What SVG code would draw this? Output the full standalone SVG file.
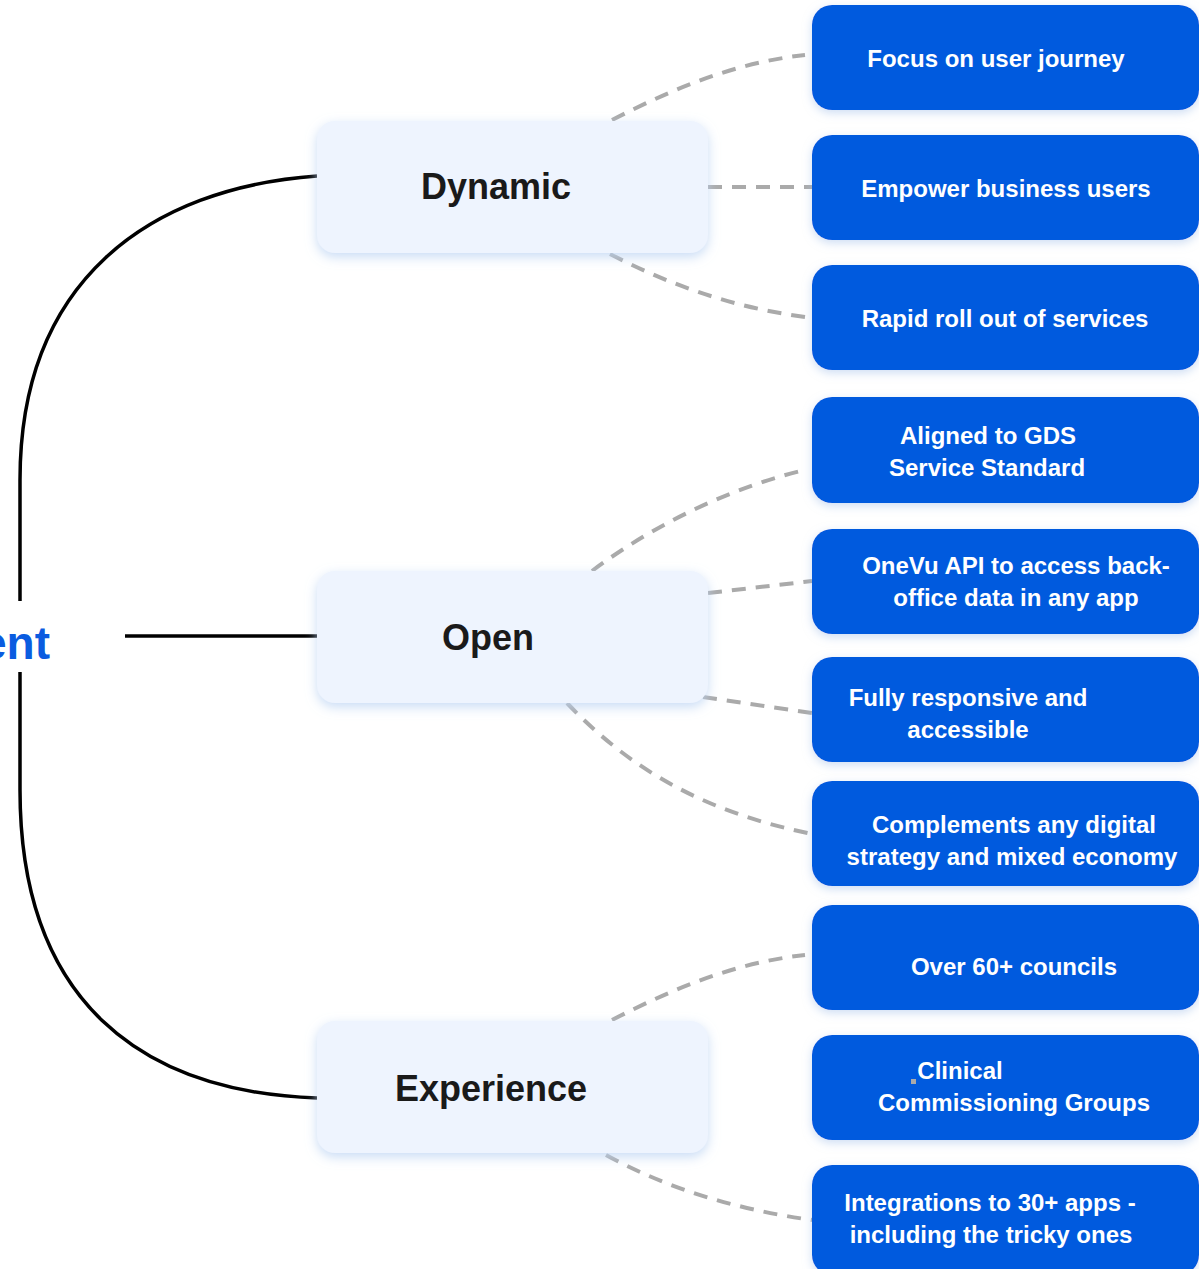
<svg xmlns="http://www.w3.org/2000/svg" width="1199" height="1269" viewBox="0 0 1199 1269">
<defs>
<filter id="nodeShadow" x="-10%" y="-20%" width="120%" height="150%">
<feDropShadow dx="0" dy="4" stdDeviation="6" flood-color="#bcd3f3" flood-opacity="0.8"/>
</filter>
<filter id="boxShadow" x="-10%" y="-20%" width="120%" height="150%">
<feDropShadow dx="0" dy="3" stdDeviation="5" flood-color="#9dbbe8" flood-opacity="0.5"/>
</filter>
</defs>
<style>
.main{fill:none;stroke:#000;stroke-width:3.5;stroke-linecap:butt}
.dash{fill:none;stroke:#aaaaaa;stroke-width:4;stroke-dasharray:14 10}
.node rect{fill:#eef4fe;filter:url(#nodeShadow)}
.node text{font-family:"Liberation Sans",Arial,sans-serif;font-weight:bold;font-size:36px;fill:#1a1a1a;text-anchor:middle}
.leaf rect{fill:#005ade;filter:url(#boxShadow)}
.leaf text{font-family:"Liberation Sans",Arial,sans-serif;font-weight:bold;font-size:24px;fill:#ffffff;text-anchor:middle}
.root{font-family:"Liberation Sans",Arial,sans-serif;font-weight:bold;font-size:46px;fill:#0a5ce0;text-anchor:end}
</style>
<rect width="1199" height="1269" fill="#ffffff"/>
<g id="connectors">
<path class="main" d="M317,176 C150,188 20,280 20,480 L20,601"/>
<path class="main" d="M20,672 L20,790 C20,1000 140,1092 317,1098"/>
<path class="main" d="M125,636 L317,636"/>
<path class="dash" d="M612,120 C680,85 740,62 805,55"/>
<path class="dash" d="M708,187 L812,187"/>
<path class="dash" d="M610,254 C680,290 740,308 805,317"/>
<path class="dash" d="M592,571 C660,520 740,485 805,470"/>
<path class="dash" d="M708,593 L812,581"/>
<path class="dash" d="M703,697 L812,713"/>
<path class="dash" d="M567,703 C640,780 720,815 812,834"/>
<path class="dash" d="M612,1020 C680,985 740,962 805,955"/>
<path class="dash" d="M606,1155 C670,1190 740,1210 812,1220"/>
</g>
<text id="root" class="root" x="50" y="659">ent</text>
<g id="node-dynamic" class="node"><rect x="317" y="121" width="391" height="132" rx="18"/><text x="496" y="199">Dynamic</text></g>
<g id="node-open" class="node"><rect x="317" y="571" width="391" height="132" rx="18"/><text x="488" y="650">Open</text></g>
<g id="node-experience" class="node"><rect x="317" y="1021" width="391" height="132" rx="18"/><text x="491" y="1101">Experience</text></g>
<g id="leaf-1" class="leaf"><rect x="812" y="5" width="387" height="105" rx="20"/><text x="996" y="67">Focus on user journey</text></g>
<g id="leaf-2" class="leaf"><rect x="812" y="135" width="387" height="105" rx="20"/><text x="1006" y="197">Empower business users</text></g>
<g id="leaf-3" class="leaf"><rect x="812" y="265" width="387" height="105" rx="20"/><text x="1005" y="327">Rapid roll out of services</text></g>
<g id="leaf-4" class="leaf"><rect x="812" y="397" width="387" height="106" rx="20"/><text x="988" y="444">Aligned to GDS</text><text x="987" y="476">Service Standard</text></g>
<g id="leaf-5" class="leaf"><rect x="812" y="529" width="387" height="105" rx="20"/><text x="1016" y="574">OneVu API to access back-</text><text x="1016" y="606">office data in any app</text></g>
<g id="leaf-6" class="leaf"><rect x="812" y="657" width="387" height="105" rx="20"/><text x="968" y="706">Fully responsive and</text><text x="968" y="738">accessible</text></g>
<g id="leaf-7" class="leaf"><rect x="812" y="781" width="387" height="105" rx="20"/><text x="1014" y="833">Complements any digital</text><text x="1012" y="865">strategy and mixed economy</text></g>
<g id="leaf-8" class="leaf"><rect x="812" y="905" width="387" height="105" rx="20"/><text x="1014" y="975">Over 60+ councils</text></g>
<g id="leaf-9" class="leaf"><rect x="812" y="1035" width="387" height="105" rx="20"/><text x="960" y="1079">Clinical</text><text x="1014" y="1111">Commissioning Groups</text><rect x="911" y="1079" width="5" height="5" style="fill:#aaaaaa;filter:none"/></g>
<g id="leaf-10" class="leaf"><rect x="812" y="1165" width="387" height="110" rx="20"/><text x="990" y="1211">Integrations to 30+ apps -</text><text x="991" y="1243">including the tricky ones</text></g>
</svg>
